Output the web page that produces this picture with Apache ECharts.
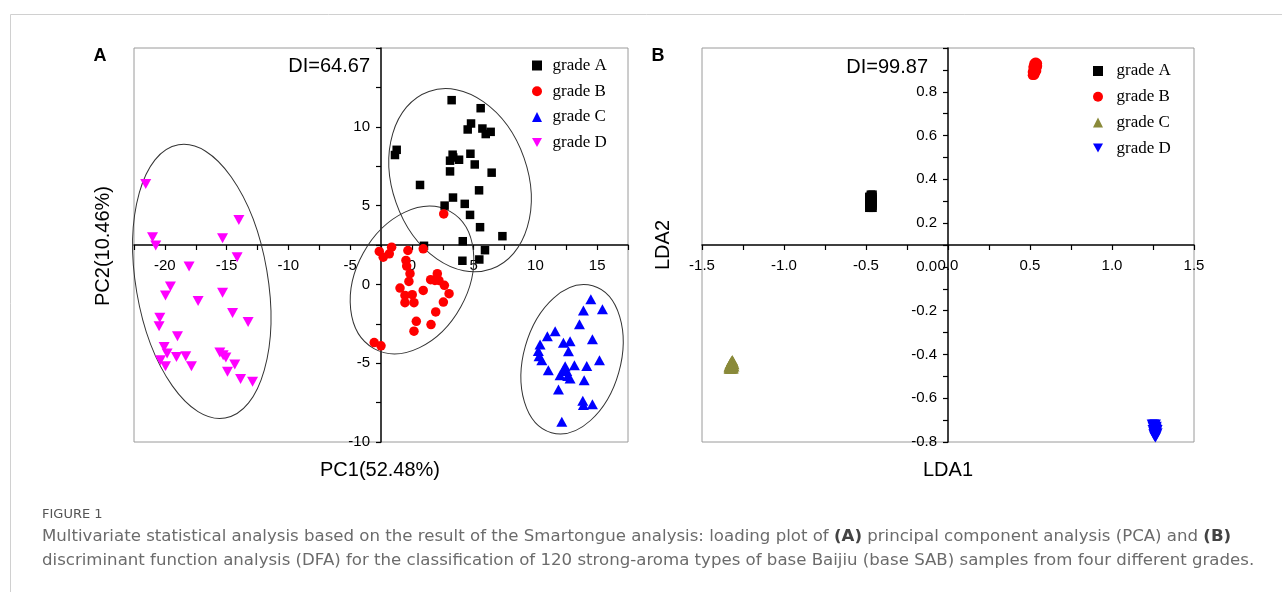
<!DOCTYPE html>
<html><head><meta charset="utf-8">
<script src="https://cdn.jsdelivr.net/npm/echarts@6/dist/echarts.min.js"></script>
<style>html,body{margin:0;padding:0;background:#fff}#c{width:1282px;height:592px}</style>
</head><body><div id="c"></div>
<script>
// ---------- data ----------
const gradeNames = ['grade A', 'grade B', 'grade C', 'grade D'];

// Panel A: PCA scores [PC1, PC2]
const pcaGradeA = [[3.22,11.69],[5.57,11.18],[4.79,10.21],[4.52,9.83],[5.71,9.89],[6.38,9.68],[5.98,9.54],[-1.23,8.54],[-1.37,8.21],[3.30,8.23],[3.09,7.85],[3.82,7.91],[4.74,8.29],[5.09,7.61],[3.09,7.17],[6.46,7.09],[0.66,6.31],[5.44,5.97],[3.33,5.51],[2.65,5.00],[4.28,5.11],[4.71,4.41],[5.52,3.63],[7.33,3.06],[4.12,2.74],[0.98,2.45],[5.92,2.17],[4.09,1.50],[5.46,1.58],[3.35,8.05]];
const pcaGradeB = [[2.58,4.47],[-2.64,2.09],[-2.32,1.73],[-1.83,1.94],[-1.64,2.36],[-0.32,2.15],[-0.48,1.52],[-0.42,1.16],[0.92,2.26],[-0.15,0.68],[-0.24,0.19],[-0.96,-0.23],[-0.56,-0.70],[0.03,-0.65],[-0.56,-1.16],[0.17,-1.16],[0.92,-0.38],[1.52,0.30],[2.06,0.68],[2.19,0.25],[2.63,-0.06],[3.01,-0.59],[2.55,-1.12],[1.93,-1.75],[0.36,-2.34],[0.17,-2.97],[1.55,-2.55],[-3.05,-3.69],[-2.50,-3.90],[1.87,0.25]];
const pcaGradeC = [[14.49,-0.95],[13.89,-1.65],[15.43,-1.58],[13.57,-2.53],[11.60,-2.97],[10.97,-3.29],[12.27,-3.71],[12.81,-3.61],[14.62,-3.48],[10.38,-3.82],[10.24,-4.22],[10.30,-4.56],[10.52,-4.81],[12.68,-4.24],[15.19,-4.81],[11.05,-5.44],[12.41,-5.19],[13.16,-5.13],[14.16,-5.17],[12.00,-5.76],[12.62,-5.82],[12.54,-5.49],[13.95,-6.08],[11.87,-6.67],[13.84,-7.38],[13.89,-7.66],[14.62,-7.61],[12.14,-8.71],[12.27,-5.44],[12.81,-5.97]];
const pcaGradeD = [[-21.55,6.37],[-14.01,4.09],[-21.00,2.99],[-20.74,2.47],[-15.33,2.93],[-14.15,1.73],[-18.04,1.14],[-19.55,-0.13],[-19.95,-0.70],[-17.31,-1.06],[-15.33,-0.53],[-14.52,-1.82],[-13.26,-2.39],[-20.41,-2.11],[-20.47,-2.66],[-18.98,-3.29],[-20.06,-3.97],[-19.82,-4.39],[-20.36,-4.81],[-19.95,-5.19],[-19.06,-4.60],[-18.31,-4.56],[-17.85,-5.19],[-15.55,-4.32],[-15.06,-4.64],[-14.34,-5.08],[-14.93,-5.55],[-13.87,-6.01],[-12.90,-6.18],[-15.28,-4.49]];
// confidence ellipses: [centerPC1, centerPC2, semiMajor, semiMinor (PC1 units), tilt deg]
const pcaEllipses = [[3.90,6.61,7.62,5.49,70.7],[0.01,0.28,6.35,4.51,-61],[12.97,-4.75,6.18,3.93,-74.3],[-17.01,0.19,11.22,5.34,80.3]];

// Panel B: DFA scores [LDA1, LDA2]
const ldaGradeA = [[-0.47,0.33],[-0.46,0.33],[-0.48,0.32],[-0.47,0.32],[-0.46,0.32],[-0.48,0.31],[-0.47,0.31],[-0.46,0.31],[-0.48,0.30],[-0.47,0.30],[-0.46,0.30],[-0.48,0.29],[-0.47,0.29],[-0.46,0.29],[-0.48,0.28],[-0.47,0.28],[-0.46,0.28],[-0.47,0.27],[-0.48,0.27],[-0.46,0.27],[-0.47,0.325],[-0.465,0.315],[-0.475,0.305],[-0.465,0.295],[-0.475,0.285],[-0.465,0.275],[-0.47,0.305],[-0.47,0.285],[-0.475,0.315],[-0.465,0.285]];
const ldaGradeB = [[0.535,0.935],[0.545,0.93],[0.525,0.93],[0.54,0.92],[0.53,0.92],[0.52,0.915],[0.545,0.915],[0.535,0.91],[0.525,0.905],[0.54,0.905],[0.52,0.90],[0.53,0.90],[0.535,0.895],[0.525,0.89],[0.515,0.89],[0.53,0.885],[0.52,0.88],[0.525,0.875],[0.515,0.875],[0.54,0.895],[0.53,0.93],[0.54,0.925],[0.525,0.92],[0.535,0.915],[0.52,0.91],[0.53,0.91],[0.525,0.895],[0.52,0.885],[0.53,0.88],[0.545,0.92]];
const ldaGradeC = [[-1.315,-0.425],[-1.32,-0.43],[-1.31,-0.435],[-1.325,-0.44],[-1.315,-0.44],[-1.305,-0.445],[-1.33,-0.45],[-1.32,-0.45],[-1.31,-0.45],[-1.335,-0.455],[-1.325,-0.455],[-1.315,-0.46],[-1.33,-0.46],[-1.32,-0.465],[-1.335,-0.465],[-1.31,-0.465],[-1.325,-0.465],[-1.305,-0.455],[-1.32,-0.44],[-1.33,-0.445],[-1.315,-0.43],[-1.31,-0.44],[-1.325,-0.445],[-1.32,-0.455],[-1.315,-0.45],[-1.33,-0.465],[-1.31,-0.46],[-1.325,-0.46],[-1.335,-0.46],[-1.32,-0.46]];
const ldaGradeD = [[1.245,-0.72],[1.255,-0.72],[1.265,-0.72],[1.25,-0.73],[1.26,-0.73],[1.27,-0.73],[1.255,-0.74],[1.265,-0.74],[1.275,-0.745],[1.25,-0.745],[1.26,-0.75],[1.27,-0.755],[1.255,-0.755],[1.265,-0.76],[1.275,-0.76],[1.26,-0.765],[1.265,-0.77],[1.27,-0.77],[1.26,-0.775],[1.265,-0.78],[1.25,-0.725],[1.26,-0.725],[1.27,-0.74],[1.255,-0.735],[1.265,-0.75],[1.27,-0.765],[1.26,-0.76],[1.255,-0.765],[1.265,-0.735],[1.27,-0.75]];

const captionLabel = 'FIGURE 1';
const captionLine1 = 'Multivariate statistical analysis based on the result of the Smartongue analysis: loading plot of {b|(A)} principal component analysis (PCA) and {b|(B)}';
const captionLine2 = 'discriminant function analysis (DFA) for the classification of 120 strong-aroma types of base Baijiu (base SAB) samples from four different grades.';

// ---------- styles ----------
const pcaColors = ['#000000', '#ff0000', '#0000ff', '#ff00ff'];
const ldaColors = ['#000000', '#ff0000', '#8a8a3a', '#0000ff'];
const symbols = ['rect', 'circle', 'triangle', 'triangle'];
const legendIcons = ['rect', 'circle', 'triangle', 'path://M0,0L10,0L5,9Z'];
const symbolRot = [0, 0, 0, 180];
const symbolSizes = [8.5, 9.5, [11, 10], [11, 10]];
const SANS = 'Liberation Sans, Arial, sans-serif';
const SERIF = 'Liberation Serif, Times New Roman, serif';
const CAPF = 'DejaVu Sans, sans-serif';

const pcaData = [pcaGradeA, pcaGradeB, pcaGradeC, pcaGradeD];
const ldaData = [ldaGradeA, ldaGradeB, ldaGradeC, ldaGradeD];

const G = [{left: 134, top: 48, width: 494, height: 394}, {left: 702, top: 48, width: 492, height: 394}];

function isMult(v, step) { const r = v / step; return Math.abs(r - Math.round(r)) < 1e-6; }

function xAxisCfg(i, min, max, interval, fmt) {
  return {
    gridIndex: i, type: 'value', min, max, interval, position: 'bottom', offset: -G[i].height / 2,
    axisLine: {show: true, onZero: false, lineStyle: {color: '#000', width: 1.5}},
    axisTick: {show: true, length: 5, lineStyle: {color: '#000', width: 1.2}},
    axisLabel: {margin: 13, fontSize: 15, color: '#000', fontFamily: SANS, formatter: fmt, hideOverlap: false},
    splitLine: {show: false}
  };
}
function yAxisCfg(i, min, max, interval, fmt) {
  return {
    gridIndex: i, type: 'value', min, max, interval, position: 'left', offset: -G[i].width / 2,
    axisLine: {show: true, onZero: false, lineStyle: {color: '#000', width: 1.5}},
    axisTick: {show: true, length: 5, lineStyle: {color: '#000', width: 1.2}},
    axisLabel: {margin: 11, fontSize: 15, color: '#000', fontFamily: SANS, formatter: fmt, hideOverlap: false},
    splitLine: {show: false}
  };
}

const series = [];
series.push({
  type: 'custom', xAxisIndex: 0, yAxisIndex: 0, z: 1, silent: true, data: pcaEllipses,
  renderItem: function (params, api) {
    const c = api.coord([api.value(0), api.value(1)]);
    const unit = api.size([1, 0])[0];
    return {
      type: 'ellipse', x: c[0], y: c[1], rotation: -api.value(4) * Math.PI / 180,
      shape: {cx: 0, cy: 0, rx: api.value(2) * unit, ry: api.value(3) * unit},
      style: {fill: 'none', stroke: '#333', lineWidth: 1}
    };
  }
});
for (let k = 0; k < 4; k++) {
  series.push({
    name: 'A|' + gradeNames[k], type: 'scatter', xAxisIndex: 0, yAxisIndex: 0, z: 3,
    data: pcaData[k], symbol: symbols[k], symbolRotate: symbolRot[k], symbolSize: symbolSizes[k],
    itemStyle: {color: pcaColors[k], opacity: 1}
  });
}
for (let k = 0; k < 4; k++) {
  series.push({
    name: 'B|' + gradeNames[k], type: 'scatter', xAxisIndex: 1, yAxisIndex: 1, z: 3,
    data: ldaData[k], symbol: symbols[k], symbolRotate: symbolRot[k], symbolSize: symbolSizes[k],
    itemStyle: {color: ldaColors[k], opacity: 1}
  });
}

function legendCfg(prefix, left, top, textPad) {
  return {
    orient: 'vertical', left, top, padding: 0, itemWidth: 10, itemHeight: 10, itemGap: 8.7, selectedMode: false,
    data: gradeNames.map((n, k) => ({name: prefix + '|' + n, icon: legendIcons[k]})),
    formatter: n => n.split('|')[1],
    textStyle: {fontFamily: SERIF, fontSize: 17, color: '#000', lineHeight: 17, padding: [0, 0, 0, textPad]}
  };
}

function txt(x, y, text, opt) {
  return Object.assign({type: 'text', x, y, silent: true,
    style: Object.assign({text, fill: '#000', font: '20px ' + SANS, align: 'center', verticalAlign: 'middle'}, opt && opt.style)},
    opt && opt.el);
}

const option = {
  backgroundColor: '#fff',
  animation: false,
  grid: G.map(g => Object.assign({show: true, borderColor: '#9a9a9a', borderWidth: 1, backgroundColor: 'transparent', containLabel: false, outerBoundsMode: 'none'}, g)),
  xAxis: [
    xAxisCfg(0, -22.5, 17.5, 2.5, v => isMult(v, 5) ? String(Math.round(v)) : ''),
    xAxisCfg(1, -1.5, 1.5, 0.25, v => isMult(v, 0.5) ? (Math.abs(v) < 1e-9 ? '0.0' : v.toFixed(1)) : '')
  ],
  yAxis: [
    yAxisCfg(0, -10, 15, 2.5, v => (isMult(v, 5) && v < 14) ? String(Math.round(v)) : ''),
    yAxisCfg(1, -0.8, 1.0, 0.1, v => (isMult(v, 0.2) && v < 0.95) ? (Math.abs(v) < 1e-9 ? '0.0' : v.toFixed(1)) : '')
  ],
  legend: [legendCfg('A', 532, 57, 5.5), legendCfg('B', 1093, 62.5, 8.5)],
  series,
  graphic: [
    {type: 'line', silent: true, shape: {x1: 10.5, y1: 14.5, x2: 1282, y2: 14.5}, style: {stroke: '#d0d0d0', lineWidth: 1}},
    {type: 'line', silent: true, shape: {x1: 10.5, y1: 14.5, x2: 10.5, y2: 592}, style: {stroke: '#d0d0d0', lineWidth: 1}},
    txt(100, 56, 'A', {style: {font: 'bold 18px ' + SANS}}),
    txt(658, 56, 'B', {style: {font: 'bold 18px ' + SANS}}),
    txt(370, 66, 'DI=64.67', {style: {align: 'right'}}),
    txt(928, 67, 'DI=99.87', {style: {align: 'right'}}),
    txt(380, 470, 'PC1(52.48%)'),
    txt(948, 470, 'LDA1'),
    txt(103, 246, 'PC2(10.46%)', {el: {rotation: Math.PI / 2}}),
    txt(663, 245, 'LDA2', {el: {rotation: Math.PI / 2}}),
    txt(42, 515, captionLabel, {style: {align: 'left', font: '13px ' + CAPF, fill: '#555'}}),
    txt(42, 537, captionLine1, {style: {align: 'left', font: '16.6px ' + CAPF, fill: '#6b6b6b',
      rich: {b: {fontWeight: 'bold', fontSize: 16.6, fontFamily: CAPF, fill: '#444'}}}}),
    txt(42, 561, captionLine2, {style: {align: 'left', font: '16.6px ' + CAPF, fill: '#6b6b6b'}})
  ]
};

const chart = echarts.init(document.getElementById('c'), null, {renderer: 'canvas', width: 1282, height: 592});
chart.setOption(option);
</script>
</body></html>
